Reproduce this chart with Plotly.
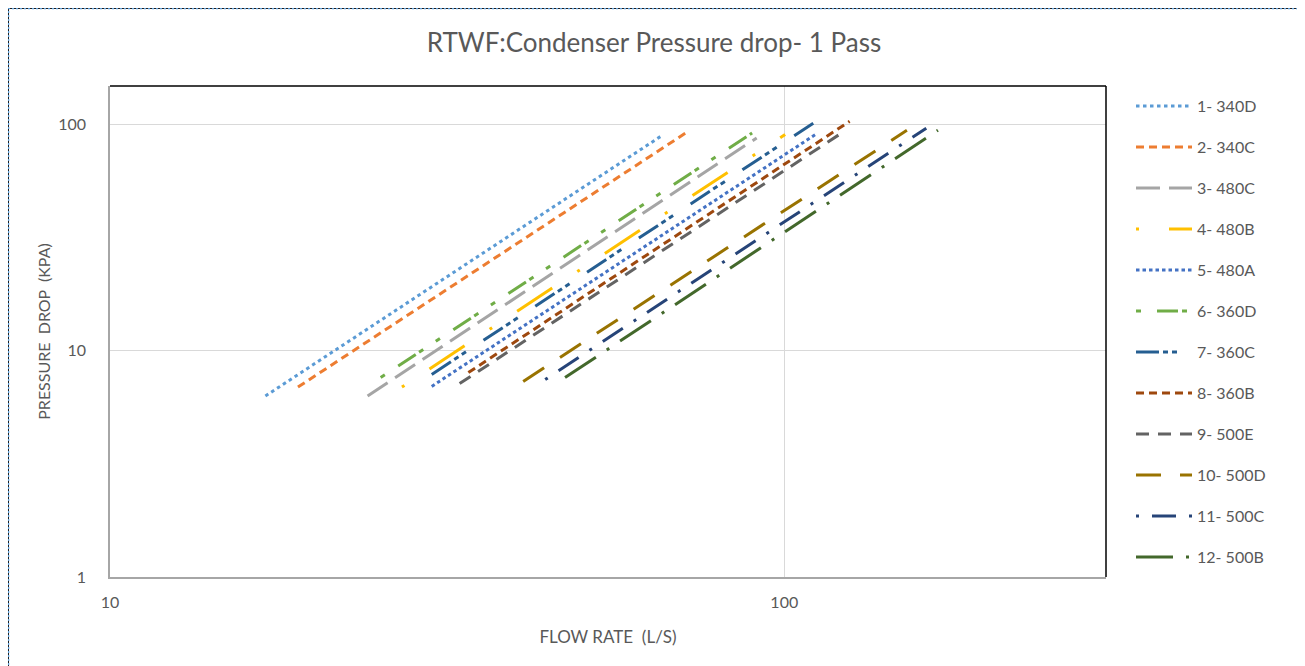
import math
import plotly.graph_objects as go

# ---- data ----
series_names = ["1- 340D", "2- 340C", "3- 480C", "4- 480B", "5- 480A", "6- 360D",
                "7- 360C", "8- 360B", "9- 500E", "10- 500D", "11- 500C", "12- 500B"]
flow_start = [17.0, 19.0, 24.1, 27.1, 30.0, 25.2, 30.0, 34.0, 33.0, 41.0, 44.2, 47.3]
flow_end = [66.0, 72.0, 91.0, 100.3, 111.5, 89.6, 110.4, 125.0, 120.3, 152.0, 162.4, 169.0]
dp_start = [6.3, 6.9, 6.3, 6.9, 6.95, 7.6, 7.85, 8.0, 7.15, 7.3, 7.45, 7.6]
dp_end = [89.5, 93.0, 87.0, 90.0, 90.5, 91.5, 101.0, 103.0, 89.5, 94.0, 96.0, 94.0]

x_tick_vals = [10, 100]
x_tick_text = ["10", "100"]
y_tick_vals = [1, 10, 100]
y_tick_text = ["1", "10", "100"]

# ---- styles ----
colors = ["#5B9BD5", "#ED7D31", "#A5A5A5", "#FFC000", "#4472C4", "#70AD47",
          "#255E91", "#9E480E", "#636363", "#997300", "#264478", "#43682B"]
dashes = ["3.5px,3.5px", "8px,5px", "24px,9px", "3px,30px,42px,30px", "3.5px,3px",
          "5px,16px,21px,4px,5px,15px", "23px,4px,5px,4px,5px,21px", "8px,5px",
          "13px,9px", "25px,19px", "3px,13px,24px,13px", "37px,13px,3px,13px"]

TXT = "#595959"
FONT = "Lato"

fig = go.Figure()
for i, name in enumerate(series_names):
    fig.add_trace(go.Scatter(
        x=[flow_start[i], flow_end[i]],
        y=[dp_start[i], dp_end[i]],
        mode="lines",
        name=name,
        legendgroup=f"g{i}",
        line=dict(color=colors[i], width=3, dash=dashes[i]),
    ))

OFF = 8  # page body margin of the browser
W, H = 1305 - OFF, 666 - OFF
L, R, T, B = 110 - OFF, 1106 - OFF, 86 - OFF, 577 - OFF
pw, ph = R - L, B - T


def px(xp):
    return (xp - OFF - L) / pw


def py(yp):
    return (B - (yp - OFF)) / ph


fig.update_layout(
    width=W, height=H,
    margin=dict(l=L, r=W - R, t=T, b=H - B, pad=0),
    paper_bgcolor="white", plot_bgcolor="white",
    font=dict(family=FONT, color=TXT, size=15),
    title=dict(text="RTWF:Condenser Pressure drop- 1 Pass",
               x=px(654), xanchor="center", xref="paper",
               y=1 - (43 - OFF) / H, yanchor="middle",
               font=dict(family=FONT, size=26, color=TXT)),
    showlegend=True,
    legend=dict(x=px(1131), y=py(89), xanchor="left", yanchor="top",
                font=dict(family=FONT, size=16, color=TXT),
                tracegroupgap=17.2, bgcolor="rgba(0,0,0,0)",
                itemwidth=56),
    xaxis=dict(type="log", range=[1, math.log10(300)],
               tickvals=x_tick_vals, ticktext=x_tick_text,
               showgrid=True, gridcolor="#D9D9D9", gridwidth=1,
               showline=True, linecolor="#A6A6A6", linewidth=1.5,
               zeroline=False, ticks="", ticklabelstandoff=10,
               tickfont=dict(family=FONT, size=16, color=TXT),
               title=dict(text="FLOW RATE  (L/S)", standoff=21,
                          font=dict(family=FONT, size=17, color=TXT))),
    yaxis=dict(type="log", range=[0, math.log10(147.5)],
               tickvals=y_tick_vals, ticktext=y_tick_text,
               showgrid=True, gridcolor="#D9D9D9", gridwidth=1,
               showline=True, linecolor="#A6A6A6", linewidth=1.5,
               zeroline=False, ticks="", ticklabelstandoff=19,
               tickfont=dict(family=FONT, size=16, color=TXT),
               title=dict(text="PRESSURE  DROP  (KPA)", standoff=4,
                          font=dict(family=FONT, size=16, color=TXT))),
    shapes=[
        # top and right border of the plot area
        dict(type="line", xref="paper", yref="paper", x0=0, x1=1, y0=1, y1=1,
             line=dict(color="#000000", width=1.5)),
        dict(type="line", xref="paper", yref="paper", x0=1, x1=1, y0=0, y1=1,
             line=dict(color="#000000", width=1.5)),
        # outer chart frame
        dict(type="rect", xref="paper", yref="paper",
             x0=px(8.5), x1=px(1302), y0=py(667), y1=py(8.5),
             line=dict(color="#1F1F1F", width=1)),
        dict(type="rect", xref="paper", yref="paper",
             x0=px(8.5), x1=px(1302), y0=py(667), y1=py(8.5),
             line=dict(color="#5B9BD5", width=1.5, dash="2px,2px")),
    ],
)

fig.write_html("out.html")
